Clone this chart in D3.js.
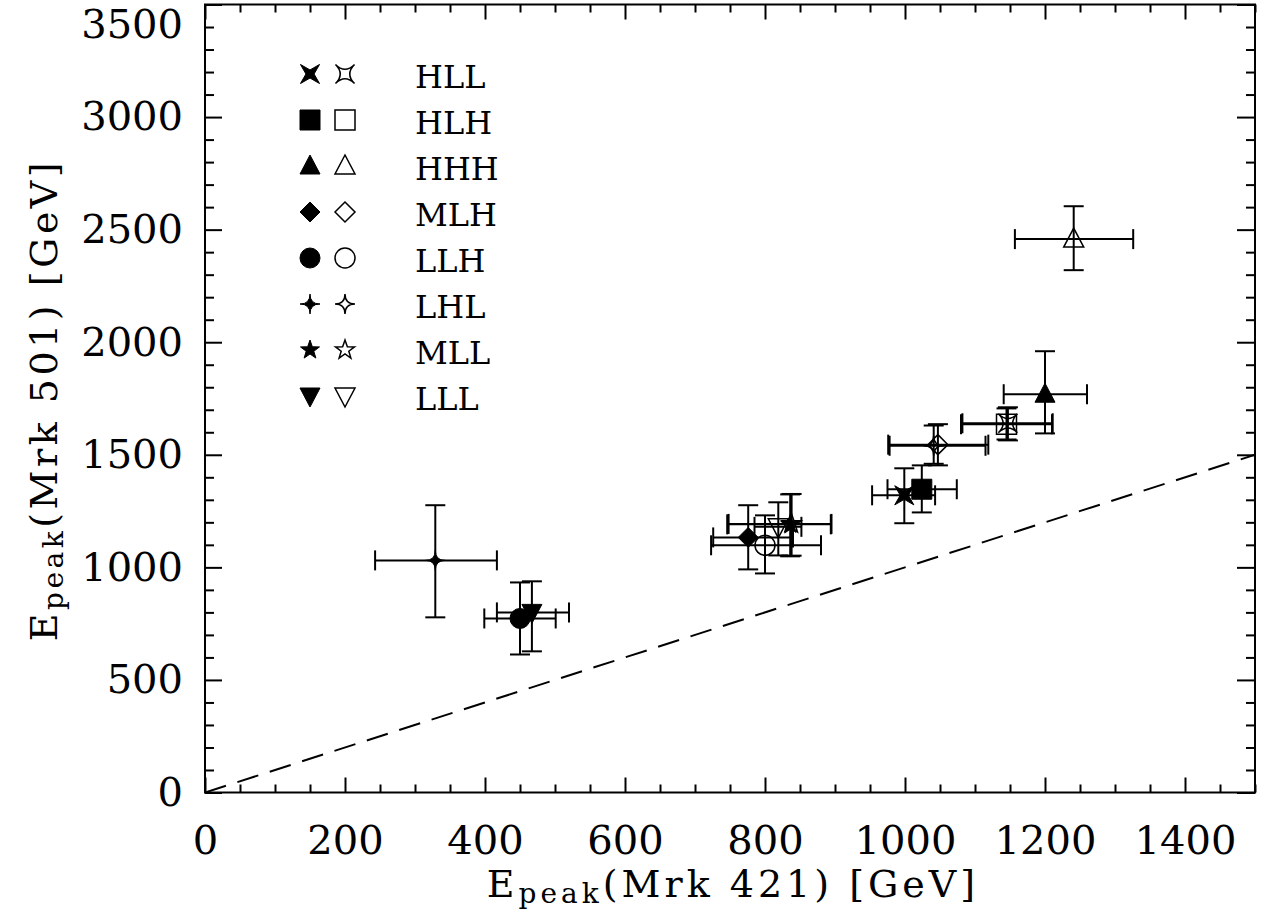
<!DOCTYPE html>
<html>
<head>
<meta charset="utf-8">
<script src="https://cdn.jsdelivr.net/npm/d3@7"></script>
<style>
	body { margin: 0; background: #fff; }
	svg { display: block; font-family: "DejaVu Serif", serif; }
</style>
</head>
<body>
<div id="graph"></div>
<script>
"use strict";

// model classes and the symbol used for each
let classes = ["HLL", "HLH", "HHH", "MLH", "LLH", "LHL", "MLL", "LLL"];
let shapes = ["cross", "square", "triUp", "diamond", "circle", "star4", "star5", "triDown"];

// filled symbols: Epeak(Mrk 421), Epeak(Mrk 501) with lower / upper error ends
let filledX = [999, 1024, 1200, 776, 450, 329, 836, 467];
let filledXLo = [953, 975, 1141, 726, 399, 243, 746, 417];
let filledXHi = [1043, 1074, 1260, 840, 501, 417, 894, 520];
let filledY = [1320, 1347, 1769, 1133, 773, 1031, 1191, 800];
let filledYLo = [1196, 1244, 1595, 991, 613, 778, 1049, 627];
let filledYHi = [1440, 1453, 1960, 1276, 933, 1276, 1324, 938];

// open symbols
let openX = [1147, 1145, 1241, 1047, 800, 1041, 838, 819];
let openXLo = [1082, 1080, 1157, 976, 723, 978, 748, 785];
let openXHi = [1211, 1210, 1326, 1119, 880, 1115, 895, 852];
let openY = [1640, 1636, 2458, 1545, 1098, 1540, 1193, 1180];
let openYLo = [1564, 1568, 2320, 1453, 973, 1460, 1052, 1053];
let openYHi = [1711, 1706, 2604, 1636, 1231, 1630, 1326, 1289];

let xMajor = [0, 200, 400, 600, 800, 1000, 1200, 1400];
let yMajor = [0, 500, 1000, 1500, 2000, 2500, 3000, 3500];

let width = 1267;
let height = 924;
let plot = { left: 205, right: 1255, top: 4.5, bottom: 792.5 };

let x = d3.scaleLinear().domain([0, 1500]).range([plot.left, plot.right]);
let y = d3.scaleLinear().domain([0, 3500]).range([plot.bottom, plot.top]);

let xMinor = d3.range(0, 1501, 50).filter(function(v) { return v % 200 !== 0; });
let yMinor = d3.range(0, 3501, 100).filter(function(v) { return v % 500 !== 0; });

let svg = d3.select("#graph")
	.append("svg")
	.attr("width", width)
	.attr("height", height);

svg.append("rect").attr("width", width).attr("height", height).attr("fill", "#fff");

function symbolPath(shape, r, filled)
{
	let pts;
	switch (shape)
	{
		case "square":
			return "M" + (-r) + "," + (-r) + "h" + 2 * r + "v" + 2 * r + "h" + (-2 * r) + "Z";
		case "triUp":
			return "M0," + (-1.1 * r) + "L" + r + "," + 0.8 * r + "L" + (-r) + "," + 0.8 * r + "Z";
		case "triDown":
			return "M" + (-r) + "," + (-0.8 * r) + "L" + r + "," + (-0.8 * r) + "L0," + 1.1 * r + "Z";
		case "diamond":
			return "M0," + (-r) + "L" + r + ",0L0," + r + "L" + (-r) + ",0Z";
		case "circle":
			return "M" + r + ",0A" + r + "," + r + " 0 1,1 " + (-r) + ",0A" + r + "," + r + " 0 1,1 " + r + ",0Z";
		case "cross":
			// X-shaped four point star
			let R = r * 1.35;
			pts = d3.range(8).map(function(i)
			{
				let a = Math.PI / 4 + i * Math.PI / 4;
				let rr = i % 2 === 0 ? R : R * (filled ? 0.3 : 0.25);
				return [rr * Math.cos(a), rr * Math.sin(a)];
			});
			if (filled)
				return "M" + pts.map(function(p) { return p[0] + "," + p[1]; }).join("L") + "Z";
			let dc = "M" + pts[0][0] + "," + pts[0][1];
			for (let i = 1; i <= 4; i++)
			{
				let p = pts[(2 * i) % 8];
				dc += "Q0,0 " + p[0] + "," + p[1];
			}
			return dc + "Z";
		case "star4":
			pts = d3.range(4).map(function(i)
			{
				let a = i * Math.PI / 2 - Math.PI / 2;
				return [r * Math.cos(a), r * Math.sin(a)];
			});
			let d = "M" + pts[0][0] + "," + pts[0][1];
			for (let i = 1; i <= 4; i++)
			{
				let p = pts[i % 4];
				d += "Q0,0 " + p[0] + "," + p[1];
			}
			return d + "Z";
		case "star5":
			pts = d3.range(10).map(function(i)
			{
				let a = i * Math.PI / 5 - Math.PI / 2;
				let rr = i % 2 === 0 ? r : r * 0.4;
				return [rr * Math.cos(a), rr * Math.sin(a)];
			});
			return "M" + pts.map(function(p) { return p[0] + "," + p[1]; }).join("L") + "Z";
	}
}

// dashed y = x line
svg.append("clipPath").attr("id", "clip")
	.append("rect")
	.attr("x", plot.left).attr("y", plot.top)
	.attr("width", plot.right - plot.left).attr("height", plot.bottom - plot.top);

svg.append("line")
	.attr("clip-path", "url(#clip)")
	.attr("x1", x(0)).attr("y1", y(0))
	.attr("x2", x(1500)).attr("y2", y(1500))
	.attr("stroke", "#000")
	.attr("stroke-width", 2)
	.attr("stroke-dasharray", "22,12");

// axes
function styleAxis(g)
{
	g.select(".domain").remove();
	g.selectAll(".tick line").attr("stroke", "#000").attr("stroke-width", 2);
	g.selectAll(".tick text").attr("fill", "#000").attr("font-size", 40)
		.attr("font-family", "DejaVu Serif");
}

svg.append("g").attr("transform", "translate(0," + plot.bottom + ")")
	.call(d3.axisBottom(x).tickValues(xMajor).tickSize(-15).tickPadding(33).tickFormat(d3.format("d")))
	.call(styleAxis);
svg.append("g").attr("transform", "translate(0," + plot.bottom + ")")
	.call(d3.axisBottom(x).tickValues(xMinor).tickSize(-8).tickFormat(""))
	.call(styleAxis);
svg.append("g").attr("transform", "translate(0," + plot.top + ")")
	.call(d3.axisTop(x).tickValues(xMajor).tickSize(-15).tickFormat(""))
	.call(styleAxis);
svg.append("g").attr("transform", "translate(0," + plot.top + ")")
	.call(d3.axisTop(x).tickValues(xMinor).tickSize(-8).tickFormat(""))
	.call(styleAxis);

let yAxisG = svg.append("g").attr("transform", "translate(" + plot.left + ",0)")
	.call(d3.axisLeft(y).tickValues(yMajor).tickSize(-17).tickPadding(22).tickFormat(d3.format("d")))
	.call(styleAxis);
// keep the top label inside the picture, as in the original
yAxisG.selectAll(".tick text").filter(function(d) { return d === 3500; }).attr("dy", "0.82em");

svg.append("g").attr("transform", "translate(" + plot.left + ",0)")
	.call(d3.axisLeft(y).tickValues(yMinor).tickSize(-9).tickFormat(""))
	.call(styleAxis);
svg.append("g").attr("transform", "translate(" + plot.right + ",0)")
	.call(d3.axisRight(y).tickValues(yMajor).tickSize(-18).tickFormat(""))
	.call(styleAxis);
svg.append("g").attr("transform", "translate(" + plot.right + ",0)")
	.call(d3.axisRight(y).tickValues(yMinor).tickSize(-9).tickFormat(""))
	.call(styleAxis);

svg.append("rect")
	.attr("x", plot.left).attr("y", plot.top)
	.attr("width", plot.right - plot.left).attr("height", plot.bottom - plot.top)
	.attr("fill", "none").attr("stroke", "#000").attr("stroke-width", 2);

// data points with error bars
function buildPoints(xs, xlo, xhi, ys, ylo, yhi, filled)
{
	return classes.map(function(c, i)
	{
		return { name: c, shape: shapes[i], x: xs[i], xlo: xlo[i], xhi: xhi[i],
			y: ys[i], ylo: ylo[i], yhi: yhi[i], filled: filled };
	});
}

let points = buildPoints(filledX, filledXLo, filledXHi, filledY, filledYLo, filledYHi, true)
	.concat(buildPoints(openX, openXLo, openXHi, openY, openYLo, openYHi, false));

let cap = 10;
let pg = svg.append("g").attr("stroke", "#000").attr("stroke-width", 2).attr("fill", "none");

points.forEach(function(p)
{
	let g = pg.append("g");
	g.append("line").attr("x1", x(p.xlo)).attr("x2", x(p.xhi)).attr("y1", y(p.y)).attr("y2", y(p.y));
	g.append("line").attr("x1", x(p.xlo)).attr("x2", x(p.xlo)).attr("y1", y(p.y) - cap).attr("y2", y(p.y) + cap);
	g.append("line").attr("x1", x(p.xhi)).attr("x2", x(p.xhi)).attr("y1", y(p.y) - cap).attr("y2", y(p.y) + cap);
	g.append("line").attr("x1", x(p.x)).attr("x2", x(p.x)).attr("y1", y(p.ylo)).attr("y2", y(p.yhi));
	g.append("line").attr("x1", x(p.x) - cap).attr("x2", x(p.x) + cap).attr("y1", y(p.ylo)).attr("y2", y(p.ylo));
	g.append("line").attr("x1", x(p.x) - cap).attr("x2", x(p.x) + cap).attr("y1", y(p.yhi)).attr("y2", y(p.yhi));
	g.append("path")
		.attr("transform", "translate(" + x(p.x) + "," + y(p.y) + ")")
		.attr("d", symbolPath(p.shape, 10, p.filled))
		.attr("fill", p.filled ? "#000" : "none")
		.attr("stroke-width", p.filled ? 1 : 1.5);
});

// legend
let legend = svg.append("g");
classes.forEach(function(c, i)
{
	let cy = 74 + i * 46;
	legend.append("path")
		.attr("transform", "translate(310," + cy + ")")
		.attr("d", symbolPath(shapes[i], 10, true))
		.attr("fill", "#000").attr("stroke", "#000").attr("stroke-width", 1);
	legend.append("path")
		.attr("transform", "translate(345," + cy + ")")
		.attr("d", symbolPath(shapes[i], 10, false))
		.attr("fill", "none").attr("stroke", "#000").attr("stroke-width", 1.5);
	legend.append("text")
		.attr("x", 415).attr("y", cy + 14)
		.attr("font-size", 32)
		.text(c);
});

// axis titles
function axisTitle(sel, source)
{
	sel.append("tspan").text("E");
	sel.append("tspan").attr("font-size", 28).attr("dy", 6).text("peak");
	sel.append("tspan").attr("dy", -6).text("(" + source + ") [GeV]");
}

svg.append("text")
	.attr("x", 733).attr("y", 897)
	.attr("text-anchor", "middle")
	.attr("font-size", 38)
	.attr("letter-spacing", 4)
	.call(axisTitle, "Mrk 421");

svg.append("text")
	.attr("transform", "translate(57,400) rotate(-90)")
	.attr("text-anchor", "middle")
	.attr("font-size", 38)
	.attr("letter-spacing", 3.5)
	.call(axisTitle, "Mrk 501");
</script>
</body>
</html>
